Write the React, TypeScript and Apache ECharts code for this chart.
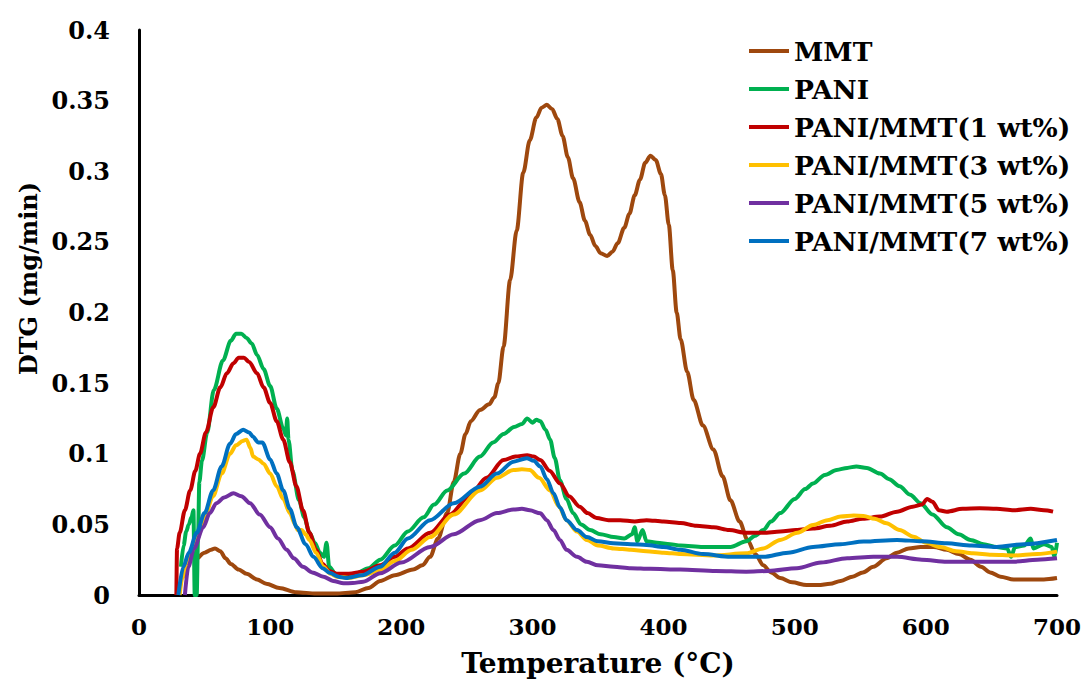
import React, { useEffect, useRef } from "react";
import * as echarts from "echarts";

const seriesNames = [
  "MMT",
  "PANI",
  "PANI/MMT(1 wt%)",
  "PANI/MMT(3 wt%)",
  "PANI/MMT(5 wt%)",
  "PANI/MMT(7 wt%)",
];
const seriesColors = ["#9E480E", "#00B050", "#C00000", "#FFC000", "#7030A0", "#0070C0"];

const mmt: number[][] = [
  [45, 0.026], [50, 0.03], [55, 0.032], [58, 0.033], [62, 0.031], [66, 0.026], [70, 0.022], [76, 0.018],
  [82, 0.015], [90, 0.011], [97, 0.008], [107, 0.005], [120, 0.002], [135, 0.001], [150, 0.001], [165, 0.002],
  [175, 0.005], [184, 0.01], [195, 0.014], [209, 0.018], [216, 0.021], [222, 0.027], [228, 0.04], [235, 0.058],
  [240, 0.08], [245, 0.1], [249, 0.114], [253, 0.123], [260, 0.131], [267, 0.135], [271, 0.14], [274, 0.15],
  [278, 0.176], [283, 0.223], [288, 0.258], [293, 0.299], [298, 0.322], [303, 0.338], [307, 0.345], [311, 0.347],
  [315, 0.344], [319, 0.337], [323, 0.325], [327, 0.31], [331, 0.295], [336, 0.278], [340, 0.265], [344, 0.255],
  [348, 0.247], [352, 0.242], [357, 0.24], [361, 0.243], [365, 0.249], [370, 0.26], [374, 0.27], [378, 0.283],
  [382, 0.294], [386, 0.306], [390, 0.311], [394, 0.308], [398, 0.298], [401, 0.283], [404, 0.262], [407, 0.23],
  [410, 0.2], [413, 0.181], [418, 0.158], [423, 0.138], [430, 0.12], [438, 0.103], [445, 0.084], [451, 0.067],
  [458, 0.052], [464, 0.039], [470, 0.029], [476, 0.021], [482, 0.016], [489, 0.012], [498, 0.009], [509, 0.007],
  [518, 0.007], [527, 0.008], [535, 0.01], [544, 0.013], [552, 0.016], [560, 0.02], [570, 0.026], [578, 0.03],
  [587, 0.033], [596, 0.034], [606, 0.034], [616, 0.032], [625, 0.029], [634, 0.025], [642, 0.02], [649, 0.016],
  [657, 0.013], [667, 0.011], [680, 0.011], [690, 0.011], [700, 0.012],
];

const pani: number[][] = [
  [32, 0.02], [34, 0.035], [36, 0.045], [38, 0.05], [40, 0.055], [41.5, 0.06], [42.5, 0.0], [44, 0.0],
  [45, 0.04], [46, 0.08], [48, 0.095], [52, 0.115], [57, 0.145], [64, 0.166], [70, 0.18], [74, 0.185],
  [78, 0.185], [82, 0.182], [86, 0.178], [90, 0.17], [95, 0.16], [100, 0.148], [105, 0.132], [110, 0.118],
  [112, 0.113], [113, 0.125], [114, 0.11], [117, 0.088], [122, 0.067], [126, 0.055], [130, 0.044], [134, 0.037],
  [138, 0.03], [141, 0.027], [143, 0.037], [145, 0.02], [150, 0.015], [156, 0.014], [165, 0.015], [175, 0.019],
  [184, 0.025], [195, 0.035], [205, 0.045], [217, 0.055], [225, 0.064], [235, 0.074], [248, 0.086], [260, 0.098],
  [270, 0.108], [278, 0.114], [286, 0.119], [292, 0.121], [296, 0.125], [300, 0.122], [303, 0.124], [306, 0.123],
  [310, 0.117], [313.5, 0.11], [317, 0.097], [321, 0.081], [326, 0.068], [331, 0.058], [337, 0.05], [344, 0.046],
  [352, 0.043], [362, 0.041], [370, 0.04], [376, 0.043], [378, 0.048], [380, 0.038], [384, 0.046], [387, 0.038],
  [395, 0.037], [405, 0.036], [413, 0.035], [430, 0.034], [451, 0.034], [463, 0.038], [470, 0.042], [476, 0.046],
  [482, 0.052], [489, 0.058], [500, 0.068], [508, 0.075], [514, 0.079], [523, 0.085], [532, 0.0885], [540, 0.09],
  [547, 0.091], [555, 0.09], [565, 0.086], [572, 0.082], [580, 0.077], [588, 0.071], [596, 0.065], [605, 0.057],
  [616, 0.048], [625, 0.043], [634, 0.039], [644, 0.036], [654, 0.034], [662, 0.033], [665, 0.027], [668, 0.034],
  [675, 0.035], [680, 0.04], [682, 0.033], [690, 0.036], [696, 0.034], [698, 0.027], [700, 0.037],
];

const pm1: number[][] = [
  [28.5, 0], [29, 0.033], [31, 0.044], [35, 0.06], [39, 0.074], [43, 0.088], [46.5, 0.1], [51, 0.115],
  [56.7, 0.133], [62, 0.147], [67, 0.157], [72, 0.164], [76, 0.168], [80, 0.168], [84, 0.165], [90, 0.157],
  [95, 0.147], [100, 0.136], [105, 0.123], [110, 0.11], [115, 0.094], [120, 0.077], [125, 0.06], [130, 0.044],
  [135, 0.032], [140, 0.022], [145, 0.017], [151, 0.015], [160, 0.015], [171, 0.0165], [184, 0.021], [195, 0.027],
  [205, 0.033], [222, 0.044], [237, 0.057], [252, 0.07], [265, 0.083], [278, 0.0956], [287, 0.098], [296, 0.099],
  [301, 0.098], [306, 0.0956], [313, 0.088], [321, 0.079], [328, 0.07], [336, 0.0625], [342, 0.058], [349, 0.0545],
  [358, 0.053], [367, 0.053], [378, 0.052], [387, 0.053], [400, 0.052], [413, 0.051], [425, 0.049], [438, 0.048],
  [450, 0.046], [463, 0.044], [476, 0.044], [489, 0.045], [501, 0.046], [514, 0.047], [527, 0.049], [540, 0.052],
  [552, 0.054], [565, 0.0555], [578, 0.059], [590, 0.0625], [597, 0.064], [601, 0.068], [605, 0.066], [610, 0.06],
  [616, 0.059], [628, 0.061], [641, 0.0614], [654, 0.061], [667, 0.06], [680, 0.061], [690, 0.06], [697, 0.059],
];

const pm3: number[][] = [
  [31, 0], [33, 0.012], [37, 0.022], [40, 0.03], [44, 0.039], [50, 0.055], [56.5, 0.07], [63, 0.086],
  [69.4, 0.1], [74, 0.106], [79, 0.109], [82, 0.11], [85, 0.104], [87, 0.098], [91, 0.096], [95, 0.093],
  [100, 0.086], [105, 0.077], [110, 0.068], [115, 0.058], [119, 0.05], [121, 0.046], [124, 0.046], [127, 0.043],
  [130, 0.039], [135, 0.03], [140.6, 0.02], [146, 0.015], [151, 0.013], [160, 0.012], [171, 0.014], [184, 0.0177],
  [195, 0.024], [208, 0.032], [222, 0.041], [240, 0.057], [260, 0.074], [273, 0.083], [285.5, 0.0885], [292, 0.089],
  [298, 0.0885], [305, 0.083], [313.5, 0.074], [320, 0.063], [326, 0.053], [334, 0.045], [341.5, 0.039], [350, 0.035],
  [362, 0.033], [375, 0.032], [387, 0.031], [400, 0.03], [413, 0.029], [438, 0.028], [463, 0.0295], [476, 0.033],
  [489, 0.039], [502, 0.044], [514, 0.0496], [525, 0.053], [535, 0.0555], [545, 0.0562], [552.5, 0.056], [561, 0.054],
  [570, 0.0508], [580, 0.046], [590.6, 0.0413], [600, 0.037], [611, 0.034], [623, 0.031], [636, 0.0295], [650, 0.0285],
  [667, 0.028], [685, 0.029], [700, 0.0307],
];

const pm5: number[][] = [
  [35, 0], [37.6, 0.02], [42, 0.033], [49, 0.048], [54, 0.058], [59, 0.065], [65, 0.069], [72, 0.072],
  [78, 0.07], [84.7, 0.065], [92, 0.057], [100, 0.048], [106, 0.04], [112.6, 0.032], [118, 0.026], [125, 0.02],
  [132, 0.016], [140.6, 0.013], [148, 0.01], [156, 0.0083], [163, 0.0085], [171, 0.0094], [184, 0.0154], [200, 0.023],
  [222, 0.034], [240, 0.043], [260, 0.053], [273, 0.058], [285.5, 0.0605], [292, 0.061], [298, 0.06], [306, 0.0578],
  [311, 0.053], [316, 0.046], [321, 0.039], [326, 0.032], [334, 0.027], [341.5, 0.0235], [350, 0.021], [362, 0.02],
  [375, 0.019], [390, 0.0185], [412.7, 0.018], [440, 0.017], [463, 0.0165], [480, 0.017], [501.7, 0.019], [520, 0.023],
  [540, 0.026], [560, 0.027], [578, 0.027], [597, 0.025], [616, 0.0236], [640, 0.0236], [667, 0.0236], [685, 0.025],
  [700, 0.026],
];

const pm7: number[][] = [
  [30, 0], [33.8, 0.02], [38, 0.03], [44, 0.044], [50, 0.058], [56.5, 0.074], [63, 0.091], [69.4, 0.107],
  [74, 0.114], [79.4, 0.117], [84, 0.115], [87, 0.112], [90.8, 0.108], [94, 0.108], [100, 0.096], [105, 0.086],
  [110, 0.074], [115, 0.061], [120.3, 0.048], [127, 0.036], [133, 0.027], [140, 0.019], [145.7, 0.0155], [152, 0.013],
  [158, 0.012], [170, 0.014], [184, 0.02], [195, 0.03], [205, 0.04], [222, 0.053], [240, 0.065], [260, 0.0767],
  [273, 0.086], [285.5, 0.0944], [295.7, 0.0968], [301, 0.095], [306, 0.091], [311, 0.082], [316, 0.072], [321, 0.062],
  [326, 0.053], [334, 0.046], [341.5, 0.041], [350, 0.038], [361.8, 0.0366], [375, 0.036], [387, 0.0354], [400, 0.034],
  [412.7, 0.032], [430, 0.029], [451, 0.027], [476, 0.027], [495, 0.03], [514, 0.034], [535, 0.036], [552.5, 0.0378],
  [578, 0.039], [597, 0.038], [616, 0.0366], [635, 0.035], [654, 0.034], [675, 0.036], [700, 0.039],
];

const allData = [mmt, pani, pm1, pm3, pm5, pm7];

const xTicks = { min: 0, max: 700, interval: 100 };
const yTicks = { min: 0, max: 0.4, interval: 0.05 };

const FONT = "DejaVu Serif";

export default function App() {
  const ref = useRef<HTMLDivElement>(null);
  useEffect(() => {
    if (!ref.current) return;
    const chart = echarts.init(ref.current, undefined, { renderer: "svg" });
    chart.setOption({
      animation: false,
      backgroundColor: "#ffffff",
      grid: { left: 139, right: 29, top: 30, bottom: 87, containLabel: false },
      legend: {
        orient: "vertical",
        left: 744,
        top: 31,
        itemWidth: 40,
        itemHeight: 4,
        itemGap: 8,
        icon: "rect",
        data: seriesNames.map((n, i) => ({ name: n, itemStyle: { color: seriesColors[i] } })),
        textStyle: { fontFamily: FONT, fontWeight: "bold", fontSize: 26.5, color: "#000", lineHeight: 30 },
      },
      xAxis: {
        type: "value",
        min: xTicks.min,
        max: xTicks.max,
        interval: xTicks.interval,
        name: "Temperature (°C)",
        nameLocation: "middle",
        nameGap: 54,
        nameTextStyle: { fontFamily: FONT, fontWeight: "bold", fontSize: 28, color: "#000" },
        axisLine: { show: true, lineStyle: { color: "#000", width: 3 } },
        axisTick: { show: false },
        splitLine: { show: false },
        axisLabel: { margin: 20, fontFamily: FONT, fontWeight: "bold", fontSize: 23, color: "#000" },
      },
      yAxis: {
        type: "value",
        min: yTicks.min,
        max: yTicks.max,
        interval: yTicks.interval,
        name: "DTG (mg/min)",
        nameLocation: "middle",
        nameGap: 97,
        nameTextStyle: {
          fontFamily: FONT,
          fontWeight: "bold",
          fontSize: 24,
          color: "#000",
          padding: [0, 0, 0, 68],
        },
        axisLine: { show: true, lineStyle: { color: "#000", width: 3 } },
        axisTick: { show: false },
        splitLine: { show: false },
        axisLabel: {
          margin: 29,
          fontFamily: FONT,
          fontWeight: "bold",
          fontSize: 24,
          color: "#000",
          formatter: (v: number) => String(parseFloat(v.toFixed(2))),
        },
      },
      series: allData.map((d, i) => ({
        name: seriesNames[i],
        type: "line",
        data: d,
        symbol: "none",
        smooth: 0.3,
        smoothMonotone: "x",
        lineStyle: { color: seriesColors[i], width: 4 },
        itemStyle: { color: seriesColors[i] },
        clip: true,
      })),
    });
    return () => chart.dispose();
  }, []);
  return (
    <div
      ref={ref}
      style={{ position: "fixed", left: 0, top: 0, width: 1086, height: 682, background: "#fff" }}
    />
  );
}
